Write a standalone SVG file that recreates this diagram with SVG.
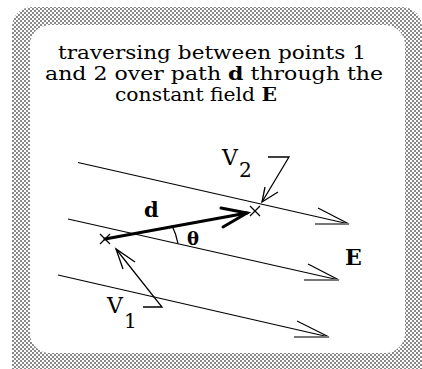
<svg xmlns="http://www.w3.org/2000/svg" width="422" height="369" viewBox="0 0 422 369">
<defs>
<pattern id="chk" x="0" y="0" width="4" height="4" patternUnits="userSpaceOnUse">
<rect width="4" height="4" fill="#ffffff"/>
<rect x="0" y="0" width="2" height="2" fill="#8a8a8a"/>
<rect x="2" y="2" width="2" height="2" fill="#8a8a8a"/>
</pattern>
<style>
.t{font-family:"DejaVu Serif","Liberation Serif",serif;font-size:19px;fill:#000}
.b{font-family:"DejaVu Serif","Liberation Serif",serif;font-weight:bold;fill:#000}
.l{font-family:"DejaVu Serif","Liberation Serif",serif;fill:#000}
.fl{stroke:#000;stroke-width:1.2;fill:none}
.gb{stroke:#777;stroke-width:2;fill:none}
.thin{stroke:#000;stroke-width:1.3;fill:none}
.thick{stroke:#000;stroke-width:3;fill:none;stroke-linecap:round}
</style>
</defs>
<rect width="422" height="369" fill="#ffffff"/>
<g id="frame">
<path fill="url(#chk)" fill-rule="evenodd" d="M32,7 H402 A20,20 0 0 1 422,27 V392 H12 V27 A20,20 0 0 1 32,7 Z M50,25 H385 A20,20 0 0 1 405,45 V333 A20,20 0 0 1 385,353 H50 A20,20 0 0 1 30,333 V45 A20,20 0 0 1 50,25 Z"/>
</g>
<g id="title">
<text class="t" x="58" y="59" textLength="308" lengthAdjust="spacingAndGlyphs">traversing between points 1</text>
<text class="t" x="45" y="80" textLength="338" lengthAdjust="spacingAndGlyphs">and 2 over path <tspan font-weight="bold">d</tspan>  through the</text>
<text class="t" x="115" y="101" textLength="162" lengthAdjust="spacingAndGlyphs">constant field <tspan font-weight="bold">E</tspan></text>
</g>
<g id="connectors">
<g id="field-line-1">
<line class="fl" x1="78" y1="162.5" x2="349" y2="224"/>
<line class="fl" x1="318" y1="208" x2="349" y2="224"/>
<line class="gb" x1="315" y1="224" x2="349" y2="224"/>
</g>
<g id="field-line-2">
<line class="fl" x1="68" y1="219" x2="339" y2="280"/>
<line class="fl" x1="308" y1="264" x2="339" y2="280"/>
<line class="gb" x1="304" y1="280" x2="339" y2="280"/>
</g>
<g id="field-line-3">
<line class="fl" x1="58" y1="275" x2="329" y2="337"/>
<line class="fl" x1="297" y1="321" x2="329" y2="337"/>
<line class="gb" x1="294" y1="337" x2="329" y2="337"/>
</g>
<g id="path-d">
<line class="thick" x1="105" y1="239" x2="247" y2="213"/>
<polyline class="thick" points="221,208 247,213 223,227" stroke-linejoin="miter"/>
</g>
<path id="theta-arc" class="thin" d="M172,225.5 A70,70 0 0 1 178,243.5"/>
<g id="v2-callout">
<polyline class="thin" points="268,157 289,157 262,202"/>
<polyline class="thin" points="265,187 262,202 278,192"/>
</g>
<g id="v1-callout">
<polyline class="thin" points="143,307 162,307 116,249"/>
<polyline class="thin" points="123,269 116,249 135,262"/>
</g>
</g>
<g id="point-1">
<path class="thin" d="M100,234 L110,244 M110,234 L100,244"/>
</g>
<g id="point-2">
<path class="thin" d="M250,206 L260,216 M260,206 L250,216"/>
</g>
<g id="labels">
<text class="b" x="144" y="217" font-size="21">d</text>
<text class="b" x="187" y="245" font-size="18">θ</text>
<text class="b" x="345" y="265" font-size="22">E</text>
<text class="l" x="222" y="165" font-size="22">V</text>
<text class="l" x="239" y="177" font-size="20">2</text>
<text class="l" x="107" y="313" font-size="22">V</text>
<text class="l" x="124" y="328" font-size="20">1</text>
</g>
</svg>
